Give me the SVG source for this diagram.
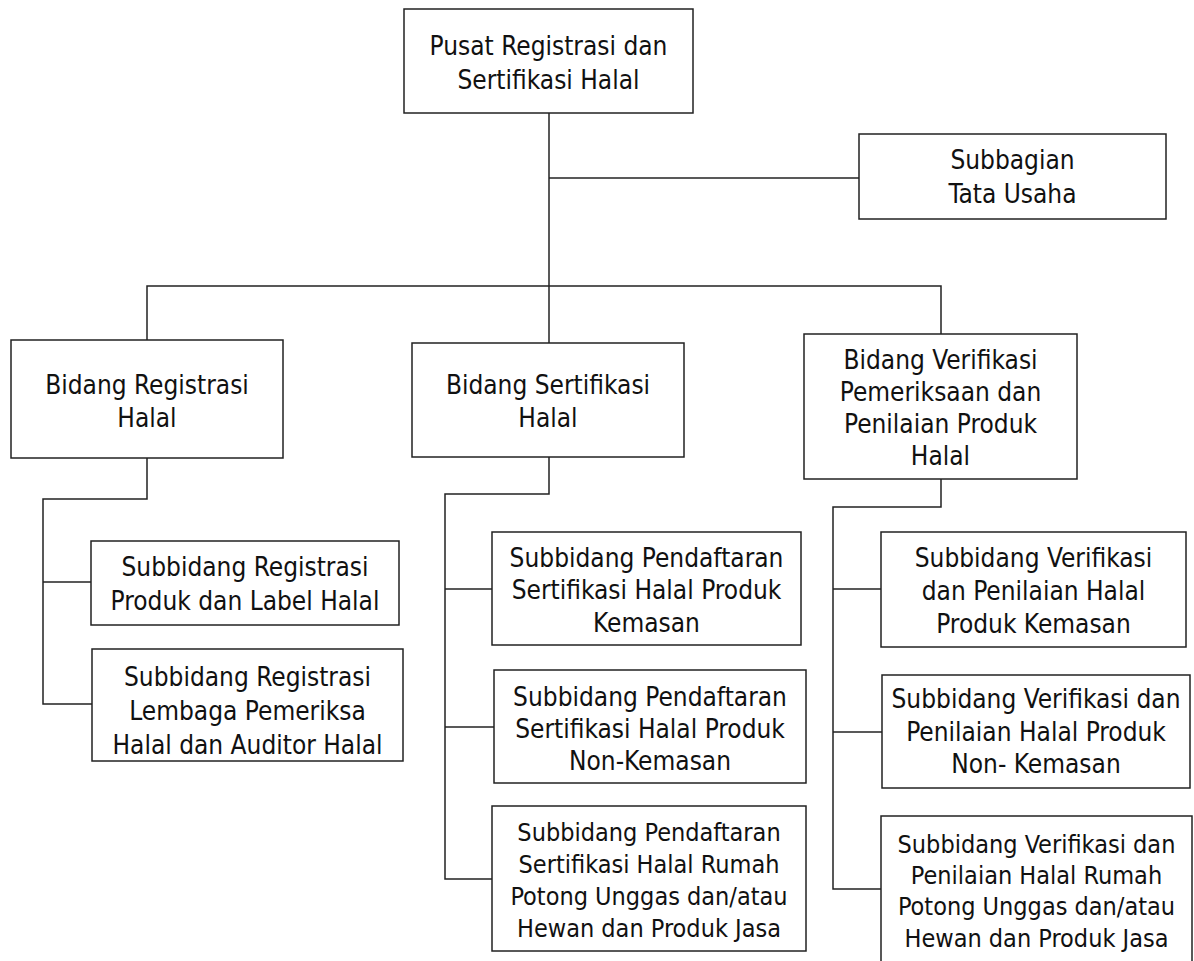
<svg xmlns="http://www.w3.org/2000/svg" width="1194" height="961" viewBox="0 0 1194 961">
<style>
.box{fill:#fff;stroke:#222;stroke-width:1.5}
.ln{fill:none;stroke:#222;stroke-width:1.5}
text{font-family:"DejaVu Sans Condensed","DejaVu Sans",sans-serif;font-stretch:condensed;font-size:26px;fill:#111;text-anchor:middle}
.s{font-size:25px}
</style>
<rect width="1194" height="961" fill="#fff"/>
<g id="connectors">
<path class="ln" d="M549 113V343"/>
<path class="ln" d="M549 178H859"/>
<path class="ln" d="M147 340V286H941V334"/>
<path class="ln" d="M147 458V499H43V704H92"/>
<path class="ln" d="M43 582H91"/>
<path class="ln" d="M549 457V494H445V879H492"/>
<path class="ln" d="M445 589H492"/>
<path class="ln" d="M445 727H494"/>
<path class="ln" d="M941 479V507H833V889H881"/>
<path class="ln" d="M833 589H881"/>
<path class="ln" d="M833 732H882"/>
</g>
<g id="pusat">
<rect class="box" x="404" y="9" width="289" height="104"/>
<text x="548.5" y="55">Pusat Registrasi dan</text>
<text x="548.5" y="89">Sertifikasi Halal</text>
</g>
<g id="subbagian">
<rect class="box" x="859" y="134" width="307" height="85"/>
<text x="1012.5" y="169">Subbagian</text>
<text x="1012.5" y="203">Tata Usaha</text>
</g>
<g id="bidang-registrasi">
<rect class="box" x="11" y="340" width="272" height="118"/>
<text x="147" y="394">Bidang Registrasi</text>
<text x="147" y="427">Halal</text>
</g>
<g id="bidang-sertifikasi">
<rect class="box" x="412" y="343" width="272" height="114"/>
<text x="548" y="394">Bidang Sertifikasi</text>
<text x="548" y="427">Halal</text>
</g>
<g id="bidang-verifikasi">
<rect class="box" x="804" y="334" width="273" height="145"/>
<text x="940.5" y="369">Bidang Verifikasi</text>
<text x="940.5" y="401">Pemeriksaan dan</text>
<text x="940.5" y="433">Penilaian Produk</text>
<text x="940.5" y="465">Halal</text>
</g>
<g id="sub-reg-produk">
<rect class="box" x="91" y="541" width="308" height="84"/>
<text x="245" y="576">Subbidang Registrasi</text>
<text x="245" y="610">Produk dan Label Halal</text>
</g>
<g id="sub-reg-lembaga">
<rect class="box" x="92" y="649" width="311" height="112"/>
<text x="247.5" y="686">Subbidang Registrasi</text>
<text x="247.5" y="720">Lembaga Pemeriksa</text>
<text x="247.5" y="754">Halal dan Auditor Halal</text>
</g>
<g id="sub-daftar-kemasan">
<rect class="box" x="492" y="532" width="309" height="113"/>
<text x="646.5" y="567">Subbidang Pendaftaran</text>
<text x="646.5" y="599">Sertifikasi Halal Produk</text>
<text x="646.5" y="632">Kemasan</text>
</g>
<g id="sub-daftar-nonkemasan">
<rect class="box" x="494" y="670" width="312" height="113"/>
<text x="650" y="706">Subbidang Pendaftaran</text>
<text x="650" y="738">Sertifikasi Halal Produk</text>
<text x="650" y="770">Non-Kemasan</text>
</g>
<g id="sub-daftar-rph">
<rect class="box" x="492" y="806" width="314" height="145"/>
<text class="s" x="649" y="841">Subbidang Pendaftaran</text>
<text class="s" x="649" y="873">Sertifikasi Halal Rumah</text>
<text class="s" x="649" y="905">Potong Unggas dan/atau</text>
<text class="s" x="649" y="937">Hewan dan Produk Jasa</text>
</g>
<g id="sub-verif-kemasan">
<rect class="box" x="881" y="532" width="305" height="115"/>
<text x="1033.5" y="567">Subbidang Verifikasi</text>
<text x="1033.5" y="600">dan Penilaian Halal</text>
<text x="1033.5" y="633">Produk Kemasan</text>
</g>
<g id="sub-verif-nonkemasan">
<rect class="box" x="882" y="675" width="308" height="113"/>
<text x="1036" y="708">Subbidang Verifikasi dan</text>
<text x="1036" y="741">Penilaian Halal Produk</text>
<text x="1036" y="773">Non- Kemasan</text>
</g>
<g id="sub-verif-rph">
<rect class="box" x="881" y="816" width="311" height="160"/>
<text class="s" x="1036.5" y="853">Subbidang Verifikasi dan</text>
<text class="s" x="1036.5" y="884">Penilaian Halal Rumah</text>
<text class="s" x="1036.5" y="915">Potong Unggas dan/atau</text>
<text class="s" x="1036.5" y="947">Hewan dan Produk Jasa</text>
</g>
</svg>
